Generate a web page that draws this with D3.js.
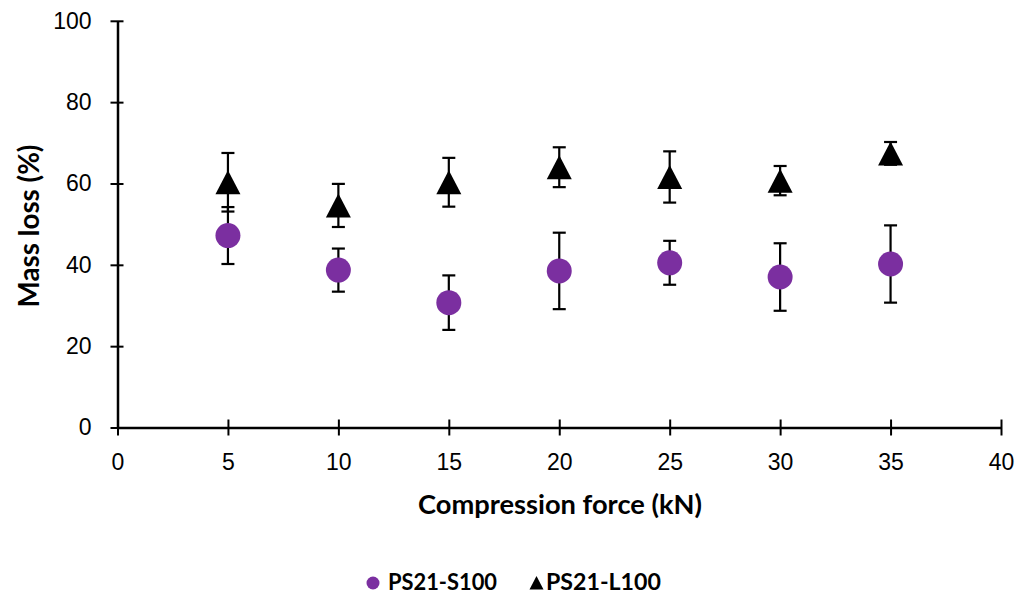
<!DOCTYPE html>
<html>
<head>
<meta charset="utf-8">
<script src="https://cdn.jsdelivr.net/npm/d3@7"></script>
<style>
  body { margin: 0; background: #fff; }
  svg { font-family: Lato, "Open Sans", sans-serif; }
</style>
</head>
<body>
<div id="chart"></div>
<script>
// data
const force = [5, 10, 15, 20, 25, 30, 35];
const s100 = [47.2, 38.7, 30.7, 38.5, 40.5, 37.0, 40.2];
const s100Err = [7.0, 5.3, 6.7, 9.4, 5.4, 8.3, 9.5];
const l100 = [60.3, 54.6, 60.3, 64.0, 61.6, 60.7, 67.4];
const l100Err = [7.2, 5.3, 6.0, 4.9, 6.3, 3.6, 2.8];
const xTicks = [0, 5, 10, 15, 20, 25, 30, 35, 40];
const yTicks = [0, 20, 40, 60, 80, 100];

const W = 1028, H = 594;
const purple = "#7B2FA0";

const svg = d3.select("#chart").append("svg")
    .attr("width", W)
    .attr("height", H);

// grow/shrink font so the text spans the width seen in the reference
function fit(sel, width) {
    const fs = +sel.attr("font-size");
    const w = sel.node().getComputedTextLength();
    sel.attr("font-size", (fs * width / w).toFixed(2));
}

const x = d3.scaleLinear().domain([0, 40]).range([117.5, 1001]);
const y = d3.scaleLinear().domain([0, 100]).range([427.5, 20.8]);

// x axis
const xAxis = svg.append("g")
    .attr("transform", "translate(0," + y(0) + ")")
    .call(d3.axisBottom(x).tickValues(xTicks).tickSize(8).tickSizeOuter(0));
xAxis.select(".domain").attr("stroke", "#000").attr("stroke-width", 2.5);
xAxis.selectAll(".tick line").attr("y1", -8).attr("stroke-width", 2);
xAxis.selectAll(".tick text")
    .attr("y", 26).attr("dy", "0.71em")
    .attr("font-size", 23).attr("fill", "#000");

// y axis
const yAxis = svg.append("g")
    .attr("transform", "translate(" + x(0) + ",0)")
    .call(d3.axisLeft(y).tickValues(yTicks).tickSize(7).tickSizeOuter(0));
yAxis.select(".domain").attr("stroke", "#000").attr("stroke-width", 2.5);
yAxis.selectAll(".tick line").attr("x1", -7).attr("x2", 6).attr("stroke-width", 2);
yAxis.selectAll(".tick text")
    .attr("x", -26)
    .attr("font-size", 23).attr("fill", "#000");

// axis titles
const xTitle = svg.append("text")
    .attr("x", 560).attr("y", 514)
    .attr("text-anchor", "middle")
    .attr("font-size", 24).attr("font-weight", "bold")
    .text("Compression force (kN)");
fit(xTitle, 284);

const yTitle = svg.append("text")
    .attr("transform", "translate(39,226) rotate(-90)")
    .attr("text-anchor", "middle")
    .attr("font-size", 24).attr("font-weight", "bold")
    .text("Mass loss (%)");
fit(yTitle, 163);

// error bars
function errorBars(vals, errs) {
    const g = svg.append("g").attr("stroke", "#000").attr("stroke-width", 2.2);
    force.forEach(function(f, i) {
        const cx = x(f);
        const lo = y(vals[i] - errs[i]), hi = y(vals[i] + errs[i]);
        g.append("line").attr("x1", cx).attr("x2", cx).attr("y1", lo).attr("y2", hi);
        g.append("line").attr("x1", cx - 6.5).attr("x2", cx + 6.5).attr("y1", lo).attr("y2", lo);
        g.append("line").attr("x1", cx - 6.5).attr("x2", cx + 6.5).attr("y1", hi).attr("y2", hi);
    });
}
errorBars(s100, s100Err);
errorBars(l100, l100Err);

svg.append("g").selectAll("circle")
    .data(s100)
    .join("circle")
    .attr("cx", (d, i) => x(force[i]))
    .attr("cy", d => y(d))
    .attr("r", 12.5)
    .attr("fill", purple);

svg.append("g").selectAll("path")
    .data(l100)
    .join("path")
    .attr("d", "M0,-12L12.5,12L-12.5,12Z")
    .attr("transform", (d, i) => "translate(" + x(force[i]) + "," + y(d) + ")")
    .attr("fill", "#000");

// legend
const legend = svg.append("g").attr("font-weight", "bold");
legend.append("circle").attr("cx", 373).attr("cy", 583).attr("r", 6.5).attr("fill", purple);
const lt1 = legend.append("text").attr("x", 388).attr("y", 590)
    .attr("font-size", 20).text("PS21-S100");
fit(lt1, 109);
legend.append("path").attr("d", "M0,-7L7,6.5L-7,6.5Z")
    .attr("transform", "translate(536.5,583)").attr("fill", "#000");
const lt2 = legend.append("text").attr("x", 546).attr("y", 590)
    .attr("font-size", 20).text("PS21-L100");
fit(lt2, 115);
</script>
</body>
</html>
